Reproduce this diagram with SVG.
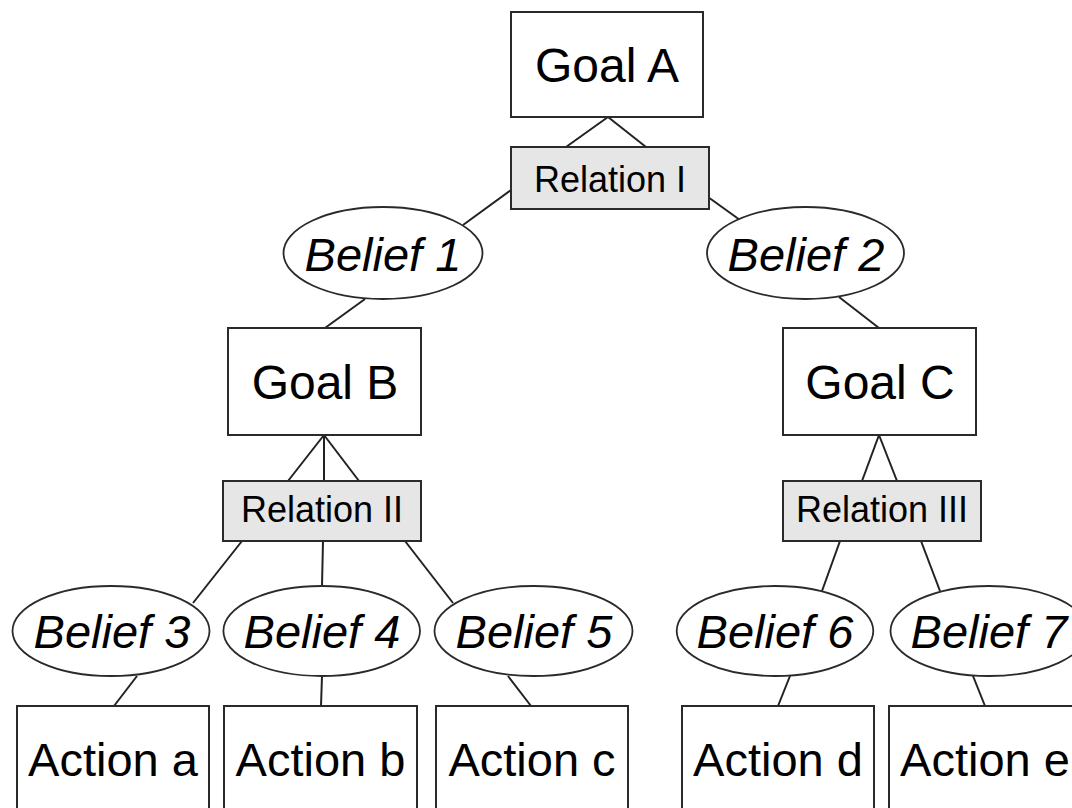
<svg xmlns="http://www.w3.org/2000/svg" width="1072" height="808" viewBox="0 0 1072 808">
<style>
.box{fill:#fff;stroke:#2a2a2a;stroke-width:2}
.rel{fill:#e6e6e6;stroke:#2a2a2a;stroke-width:2}
.bel{fill:#fff;stroke:#2a2a2a;stroke-width:1.8}
.con line{stroke:#222;stroke-width:2}
text{font-family:"Liberation Sans",Arial,sans-serif;fill:#000;text-anchor:middle}
.tg{font-size:48px}
.tr{font-size:36px}
.tb{font-size:47px;font-style:italic}
.ta{font-size:47px}
</style>
<rect width="1072" height="808" fill="#fff"/>
<g id="connectors" class="con">
<line x1="608" y1="117" x2="566" y2="147"/>
<line x1="608" y1="117" x2="646" y2="147"/>
<line x1="511" y1="190" x2="463" y2="225"/>
<line x1="708" y1="197" x2="740" y2="220"/>
<line x1="365" y1="299" x2="325" y2="328"/>
<line x1="839" y1="297" x2="879" y2="328"/>
<line x1="324" y1="435" x2="288" y2="481"/>
<line x1="324" y1="435" x2="324" y2="481"/>
<line x1="324" y1="435" x2="359" y2="481"/>
<line x1="879" y1="435" x2="862" y2="481"/>
<line x1="879" y1="435" x2="897" y2="481"/>
<line x1="242" y1="541" x2="193" y2="603"/>
<line x1="323" y1="541" x2="322" y2="586"/>
<line x1="405" y1="541" x2="453" y2="603"/>
<line x1="840" y1="541" x2="822" y2="591"/>
<line x1="921" y1="541" x2="940" y2="591"/>
<line x1="137" y1="676" x2="114" y2="706"/>
<line x1="322" y1="676" x2="321" y2="706"/>
<line x1="508" y1="676" x2="531" y2="706"/>
<line x1="790" y1="676" x2="778" y2="706"/>
<line x1="973" y1="676" x2="985" y2="706"/>
</g>
<g id="goalA"><rect class="box" x="511" y="12" width="192" height="105"/><text class="tg" x="607" y="82">Goal A</text></g>
<g id="relationI"><rect class="rel" x="511" y="147" width="198" height="62"/><text class="tr" x="610" y="191.5">Relation I</text></g>
<g id="belief1"><ellipse class="bel" cx="383" cy="253" rx="99.5" ry="46"/><text class="tb" x="383" y="270.5">Belief 1</text></g>
<g id="belief2"><ellipse class="bel" cx="805.5" cy="253" rx="98.5" ry="46"/><text class="tb" x="806" y="270.5">Belief 2</text></g>
<g id="goalB"><rect class="box" x="228" y="328" width="193" height="107"/><text class="tg" x="325" y="399">Goal B</text></g>
<g id="goalC"><rect class="box" x="783" y="328" width="193" height="107"/><text class="tg" x="880" y="398.5">Goal C</text></g>
<g id="relationII"><rect class="rel" x="223" y="481" width="198" height="60"/><text class="tr" x="322" y="521.5">Relation II</text></g>
<g id="relationIII"><rect class="rel" x="783" y="481" width="198" height="60"/><text class="tr" x="882" y="521.5">Relation III</text></g>
<g id="belief3"><ellipse class="bel" cx="111" cy="631" rx="98.5" ry="45"/><text class="tb" x="112" y="647.5">Belief 3</text></g>
<g id="belief4"><ellipse class="bel" cx="321.7" cy="631" rx="98.3" ry="45"/><text class="tb" x="322" y="647.5">Belief 4</text></g>
<g id="belief5"><ellipse class="bel" cx="533.5" cy="631" rx="99" ry="45"/><text class="tb" x="534" y="647.5">Belief 5</text></g>
<g id="belief6"><ellipse class="bel" cx="775" cy="631" rx="98.3" ry="45"/><text class="tb" x="775" y="647.5">Belief 6</text></g>
<g id="belief7"><ellipse class="bel" cx="989" cy="631" rx="98.5" ry="45"/><text class="tb" x="989" y="647.5">Belief 7</text></g>
<g id="actionA"><rect class="box" x="17" y="706" width="192" height="120"/><text class="ta" x="113" y="776">Action a</text></g>
<g id="actionB"><rect class="box" x="224" y="706" width="193" height="120"/><text class="ta" x="320.5" y="776">Action b</text></g>
<g id="actionC"><rect class="box" x="436" y="706" width="192" height="120"/><text class="ta" x="532" y="776">Action c</text></g>
<g id="actionD"><rect class="box" x="682" y="706" width="192" height="120"/><text class="ta" x="778" y="776">Action d</text></g>
<g id="actionE"><rect class="box" x="889" y="706" width="192" height="120"/><text class="ta" x="985" y="776">Action e</text></g>
</svg>
